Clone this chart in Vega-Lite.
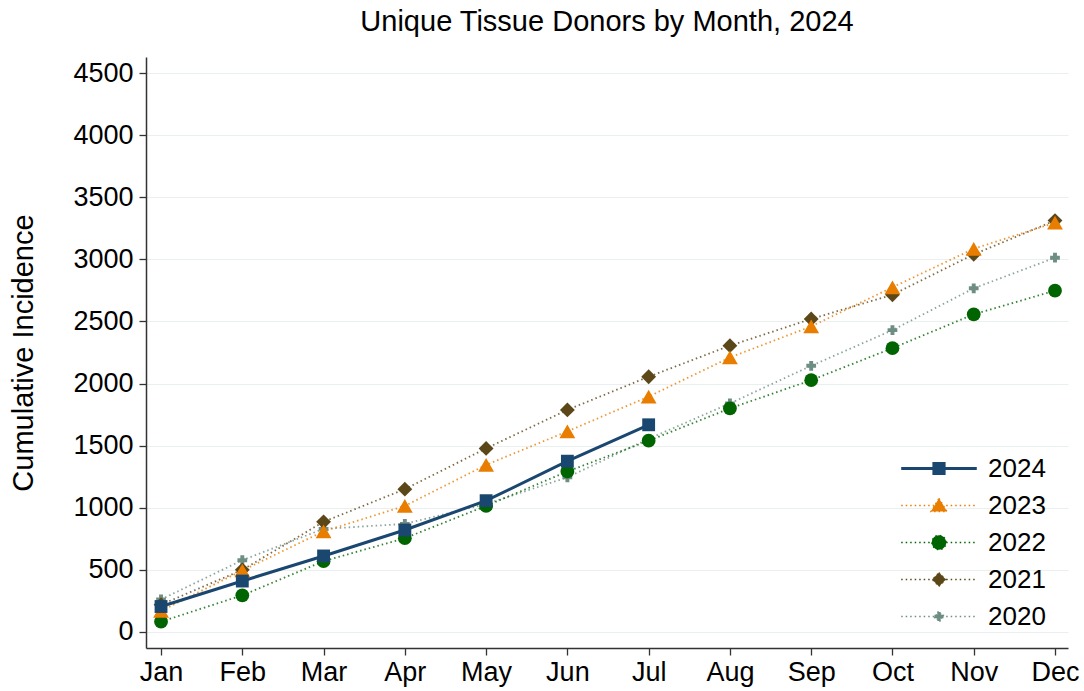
{
  "$schema": "https://vega.github.io/schema/vega-lite/v6.json",
  "width": 922,
  "height": 591,
  "autosize": {"type": "none"},
  "padding": {"left": 146, "top": 57, "right": 16, "bottom": 43},
  "background": "white",
  "title": {
    "text": "Unique Tissue Donors by Month, 2024",
    "fontSize": 29,
    "font": "Liberation Sans",
    "fontWeight": "normal",
    "color": "black",
    "anchor": "middle",
    "offset": 20
  },
  "config": {
    "view": {"stroke": null},
    "font": "Liberation Sans",
    "axis": {
      "domainColor": "#333333",
      "domainWidth": 1.5,
      "tickColor": "#333333",
      "tickWidth": 1.3,
      "tickSize": 7,
      "labelColor": "black",
      "labelFontSize": 27,
      "labelFont": "Liberation Sans",
      "titleFont": "Liberation Sans",
      "titleFontWeight": "normal",
      "titleColor": "black",
      "gridColor": "#eaf0f0",
      "gridWidth": 1.2
    }
  },
  "data": {
    "values": [
      {"year": "2020", "month": 1, "value": 262},
      {"year": "2020", "month": 2, "value": 578},
      {"year": "2020", "month": 3, "value": 830},
      {"year": "2020", "month": 4, "value": 870},
      {"year": "2020", "month": 5, "value": 1030},
      {"year": "2020", "month": 6, "value": 1245},
      {"year": "2020", "month": 7, "value": 1555},
      {"year": "2020", "month": 8, "value": 1840},
      {"year": "2020", "month": 9, "value": 2143},
      {"year": "2020", "month": 10, "value": 2430},
      {"year": "2020", "month": 11, "value": 2767},
      {"year": "2020", "month": 12, "value": 3013},
      {"year": "2021", "month": 1, "value": 220},
      {"year": "2021", "month": 2, "value": 500},
      {"year": "2021", "month": 3, "value": 887},
      {"year": "2021", "month": 4, "value": 1150},
      {"year": "2021", "month": 5, "value": 1478},
      {"year": "2021", "month": 6, "value": 1788},
      {"year": "2021", "month": 7, "value": 2055},
      {"year": "2021", "month": 8, "value": 2305},
      {"year": "2021", "month": 9, "value": 2520},
      {"year": "2021", "month": 10, "value": 2715},
      {"year": "2021", "month": 11, "value": 3040},
      {"year": "2021", "month": 12, "value": 3312},
      {"year": "2022", "month": 1, "value": 83},
      {"year": "2022", "month": 2, "value": 295},
      {"year": "2022", "month": 3, "value": 570},
      {"year": "2022", "month": 4, "value": 755},
      {"year": "2022", "month": 5, "value": 1015},
      {"year": "2022", "month": 6, "value": 1292},
      {"year": "2022", "month": 7, "value": 1540},
      {"year": "2022", "month": 8, "value": 1800},
      {"year": "2022", "month": 9, "value": 2027},
      {"year": "2022", "month": 10, "value": 2285},
      {"year": "2022", "month": 11, "value": 2557},
      {"year": "2022", "month": 12, "value": 2748},
      {"year": "2023", "month": 1, "value": 170},
      {"year": "2023", "month": 2, "value": 495},
      {"year": "2023", "month": 3, "value": 810},
      {"year": "2023", "month": 4, "value": 1015},
      {"year": "2023", "month": 5, "value": 1345},
      {"year": "2023", "month": 6, "value": 1615},
      {"year": "2023", "month": 7, "value": 1895},
      {"year": "2023", "month": 8, "value": 2210},
      {"year": "2023", "month": 9, "value": 2460},
      {"year": "2023", "month": 10, "value": 2775},
      {"year": "2023", "month": 11, "value": 3085},
      {"year": "2023", "month": 12, "value": 3295},
      {"year": "2024", "month": 1, "value": 205},
      {"year": "2024", "month": 2, "value": 410},
      {"year": "2024", "month": 3, "value": 612},
      {"year": "2024", "month": 4, "value": 821},
      {"year": "2024", "month": 5, "value": 1057},
      {"year": "2024", "month": 6, "value": 1375},
      {"year": "2024", "month": 7, "value": 1668}
    ]
  },
  "encoding": {
    "x": {
      "field": "month",
      "type": "quantitative",
      "scale": {"domain": [0.815, 12.16], "nice": false, "zero": false},
      "axis": {
        "title": null,
        "grid": false,
        "values": [1, 2, 3, 4, 5, 6, 7, 8, 9, 10, 11, 12],
        "labelExpr": "['Jan','Feb','Mar','Apr','May','Jun','Jul','Aug','Sep','Oct','Nov','Dec'][datum.value - 1]",
        "labelPadding": 4,
        "labelFlush": false,
        "labelOverlap": false
      }
    },
    "y": {
      "field": "value",
      "type": "quantitative",
      "scale": {"domain": [-129, 4629], "nice": false, "zero": false},
      "axis": {
        "title": "Cumulative Incidence",
        "titleFontSize": 29,
        "titlePadding": 34,
        "values": [0, 500, 1000, 1500, 2000, 2500, 3000, 3500, 4000, 4500],
        "labelPadding": 6,
        "labelFlush": false,
        "labelOverlap": false,
        "format": "d"
      }
    },
    "color": {
      "field": "year",
      "type": "nominal",
      "scale": {
        "domain": ["2024", "2023", "2022", "2021", "2020"],
        "range": ["#1a476f", "#e87d00", "#006400", "#5c4718", "#6e8e84"]
      },
      "legend": {
        "orient": "none",
        "legendX": 742,
        "legendY": 393,
        "title": null,
        "padding": 0,
        "labelFontSize": 26,
        "labelFont": "Liberation Sans",
        "labelColor": "black",
        "symbolSize": 144,
        "symbolOffset": 38,
        "labelOffset": 36,
        "clipHeight": 37,
        "rowPadding": 0,
        "symbolType": {"expr": "datum.value == '2024' ? 'M-6.3,0H6.3M-0.85,-0.85H0.85V0.85H-0.85Z' : datum.value == '2023' ? 'M-6.3,0H6.3M0,-1.2L1.35,1H-1.35Z' : datum.value == '2022' ? 'M-6.3,0H6.3M-1.2,0A1.2,1.2 0 1,0 1.2,0A1.2,1.2 0 1,0 -1.2,0Z' : datum.value == '2021' ? 'M-6.3,0H6.3M0,-1.15L1.15,0L0,1.15L-1.15,0Z' : 'M-6.3,0H6.3M-0.28,-0.75H0.28V-0.28H0.75V0.28H0.28V0.75H-0.28V0.28H-0.75V-0.28H-0.28Z'"},
        "encoding": {
          "symbols": {
            "shape": {"value": {"expr": "datum.value == '2024' ? 'M-6.3,0H6.3M-0.85,-0.85H0.85V0.85H-0.85Z' : datum.value == '2023' ? 'M-6.3,0H6.3M0,-1.2L1.35,1H-1.35Z' : datum.value == '2022' ? 'M-6.3,0H6.3M-1.2,0A1.2,1.2 0 1,0 1.2,0A1.2,1.2 0 1,0 -1.2,0Z' : datum.value == '2021' ? 'M-6.3,0H6.3M0,-1.15L1.15,0L0,1.15L-1.15,0Z' : 'M-6.3,0H6.3M-0.28,-0.75H0.28V-0.28H0.75V0.28H0.28V0.75H-0.28V0.28H-0.75V-0.28H-0.28Z'"}},
            "fill": {"value": {"expr": "scale('color', datum.value)"}},
            "stroke": {"value": {"expr": "scale('color', datum.value)"}},
            "strokeWidth": {"value": {"expr": "datum.value == '2024' ? 3 : 1.3"}},
            "strokeDash": {"value": {"expr": "datum.value == '2024' ? [1, 0] : [1.5, 3]"}},
            "opacity": {"value": 1}
          }
        }
      }
    }
  },
  "layer": [
    {
      "transform": [{"filter": "datum.year != '2024'"}],
      "mark": {"type": "line", "strokeWidth": 1.8, "strokeDash": [1.5, 3], "opacity": 0.8},
      "encoding": {"detail": {"field": "year"}}
    },
    {
      "transform": [{"filter": "datum.year == '2024'"}],
      "mark": {"type": "line", "strokeWidth": 3}
    },
    {
      "transform": [{"filter": "datum.year == '2020'"}],
      "mark": {"type": "point", "filled": true, "opacity": 1, "shape": "cross", "size": 95}
    },
    {
      "transform": [{"filter": "datum.year == '2021'"}],
      "mark": {"type": "point", "filled": true, "opacity": 1, "shape": "diamond", "size": 220}
    },
    {
      "transform": [{"filter": "datum.year == '2022'"}],
      "mark": {"type": "point", "filled": true, "opacity": 1, "shape": "circle", "size": 190}
    },
    {
      "transform": [{"filter": "datum.year == '2023'"}],
      "mark": {"type": "point", "filled": true, "opacity": 1, "shape": "triangle-up", "size": 250}
    },
    {
      "transform": [{"filter": "datum.year == '2024'"}],
      "mark": {"type": "point", "filled": true, "opacity": 1, "shape": "square", "size": 165}
    }
  ]
}
